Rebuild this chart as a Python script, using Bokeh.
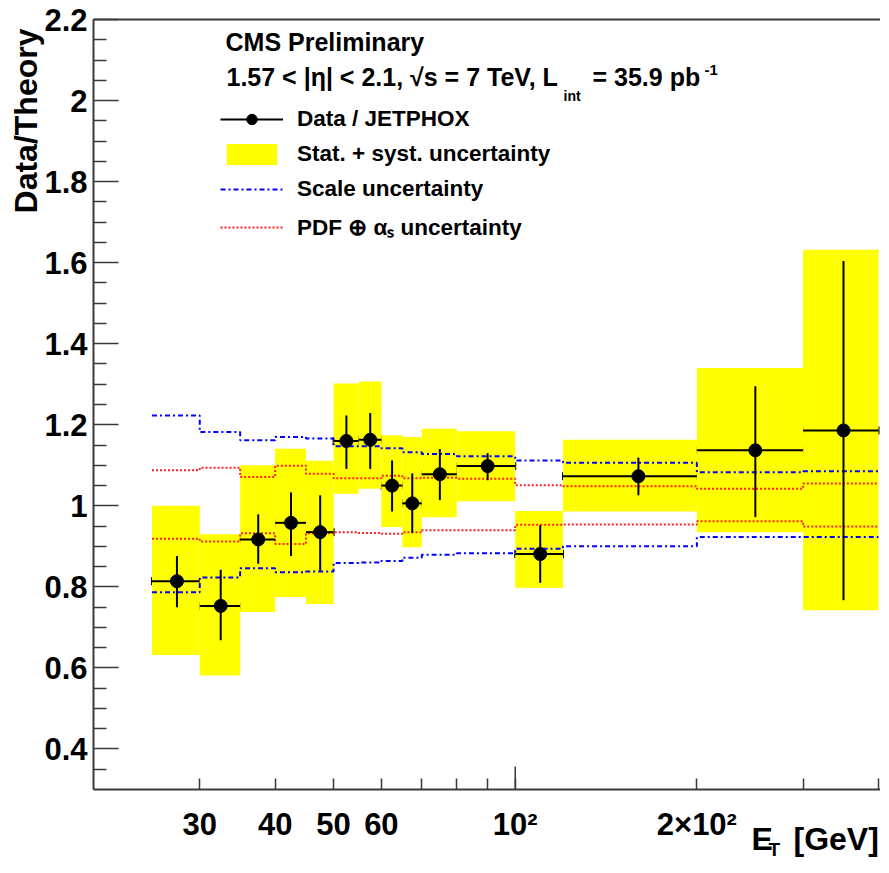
import math
from bokeh.plotting import figure
from bokeh.models import (Range1d, FixedTicker, LogAxis, Whisker, TeeHead, Label,
                          Legend, LegendItem, ColumnDataSource)
from bokeh.embed import file_html
from bokeh.resources import INLINE

# ---------------- data ----------------
BIN_LO = [25, 30, 35, 40, 45, 50, 55, 60, 65, 70, 80, 100, 120, 200, 300]
BIN_HI = [30, 35, 40, 45, 50, 55, 60, 65, 70, 80, 100, 120, 200, 300, 400]
ET = [27.5, 32.5, 37.5, 42.5, 47.5, 52.5, 57.5, 62.5, 67.5, 75, 90, 110, 160, 250, 350]

RATIO = [0.814, 0.753, 0.917, 0.958, 0.935, 1.160, 1.163, 1.050, 1.006, 1.078,
         1.098, 0.881, 1.073, 1.137, 1.186]
ERR_HI = [0.876, 0.842, 0.979, 1.033, 1.026, 1.223, 1.229, 1.112, 1.080, 1.140,
          1.130, 0.952, 1.119, 1.295, 1.604]
ERR_LO = [0.750, 0.668, 0.857, 0.876, 0.840, 1.091, 1.091, 0.986, 0.933, 1.014,
          1.063, 0.810, 1.026, 0.972, 0.767]

STAT_LO = [0.632, 0.581, 0.738, 0.775, 0.758, 1.030, 1.042, 0.948, 0.898, 0.972,
           1.011, 0.798, 0.986, 0.935, 0.742]
STAT_HI = [1.000, 0.930, 1.100, 1.141, 1.111, 1.302, 1.307, 1.174, 1.170, 1.190,
           1.184, 0.987, 1.163, 1.340, 1.632]

SCALE_UP = [1.223, 1.182, 1.162, 1.170, 1.166, 1.147, 1.147, 1.142, 1.132, 1.128,
            1.122, 1.112, 1.106, 1.083, 1.085]
SCALE_DN = [0.787, 0.823, 0.846, 0.836, 0.838, 0.859, 0.860, 0.864, 0.872, 0.879,
            0.883, 0.894, 0.900, 0.923, 0.923]

PDF_UP = [1.088, 1.094, 1.071, 1.099, 1.079, 1.068, 1.068, 1.074, 1.068, 1.069,
          1.067, 1.051, 1.048, 1.042, 1.055]
PDF_DN = [0.919, 0.912, 0.932, 0.906, 0.932, 0.935, 0.933, 0.931, 0.935, 0.940,
          0.940, 0.953, 0.954, 0.962, 0.949]

X_TICKS = [30, 40, 50, 60, 100, 200]
X_LABELS = ["30", "40", "50", "60", "10\u00b2", "2\u00d710\u00b2"]
X_MINOR = [70, 80, 90, 300, 400]
Y_TICKS = [0.4, 0.6, 0.8, 1.0, 1.2, 1.4, 1.6, 1.8, 2.0, 2.2]
Y_LABELS = ["0.4", "0.6", "0.8", "1", "1.2", "1.4", "1.6", "1.8", "2", "2.2"]
Y_MINOR = [0.35, 0.45, 0.5, 0.55, 0.65, 0.7, 0.75, 0.85, 0.9, 0.95, 1.05, 1.1, 1.15,
           1.25, 1.3, 1.35, 1.45, 1.5, 1.55, 1.65, 1.7, 1.75, 1.85, 1.9, 1.95,
           2.05, 2.1, 2.15]

AX_X0, AX_X1 = 20, 400      # axis values at the left edge / last bin edge
AX_Y0, AX_Y1 = 0.3, 2.2     # axis values at the bottom / top edge

# ---------------- layout geometry (pixels) ----------------
W, H = 880, 864
PX_L, PX_R, PX_T, PX_B = 93, 878, 19, 789   # where the axis values above sit

dec_per_px = (math.log10(AX_X1) - math.log10(AX_X0)) / (PX_R - PX_L)
X_LO = 10 ** (math.log10(AX_X0) - PX_L * dec_per_px)
X_HI = 10 ** (math.log10(AX_X0) + (W - PX_L) * dec_per_px)
y_per_px = (AX_Y1 - AX_Y0) / (PX_B - PX_T)
Y_LO = AX_Y0 - (H - PX_B) * y_per_px
Y_HI = AX_Y1 + PX_T * y_per_px

FONT = "Liberation Sans"
AXC = "#3a3a3a"

# ---------------- figure ----------------
p = figure(width=W, height=H, x_axis_type="log",
           x_range=Range1d(X_LO, X_HI), y_range=Range1d(Y_LO, Y_HI),
           output_backend="svg", toolbar_location=None, min_border=0)
p.title.visible = False
p.outline_line_color = None
p.grid.visible = False
p.background_fill_color = "white"
p.border_fill_color = "white"

xa = p.xaxis[0]
xa.fixed_location = AX_Y0
xa.bounds = (AX_X0, X_HI)
xa.ticker = FixedTicker(ticks=X_TICKS, minor_ticks=X_MINOR)
xa.major_label_overrides = {t: l for t, l in zip(X_TICKS, X_LABELS)}
xa.major_tick_in = 11
xa.major_tick_out = 0
xa.minor_tick_in = 11
xa.minor_tick_out = 0
xa.major_label_standoff = 17

ya = p.yaxis[0]
ya.fixed_location = AX_X0
ya.bounds = (AX_Y0, AX_Y1)
ya.ticker = FixedTicker(ticks=Y_TICKS, minor_ticks=Y_MINOR)
ya.major_label_overrides = {t: l for t, l in zip(Y_TICKS, Y_LABELS)}
ya.major_tick_in = 25
ya.major_tick_out = 0
ya.minor_tick_in = 13
ya.minor_tick_out = 0
ya.major_label_standoff = 6

for ax in (xa, ya):
    ax.axis_line_color = AXC
    ax.axis_line_width = 2
    ax.major_tick_line_color = AXC
    ax.minor_tick_line_color = AXC
    ax.major_tick_line_width = 1.5
    ax.minor_tick_line_width = 1.5
    ax.major_label_text_font = FONT
    ax.major_label_text_font_style = "bold"
    ax.major_label_text_font_size = "31px"
    ax.major_label_text_color = "black"

top_axis = LogAxis(fixed_location=AX_Y1, bounds=(AX_X0, X_HI),
                   ticker=FixedTicker(ticks=[]), axis_line_color=AXC, axis_line_width=2,
                   major_tick_in=0, major_tick_out=0, minor_tick_in=0, minor_tick_out=0,
                   major_label_standoff=0, major_label_text_font_size="0px")
p.add_layout(top_axis, "above")

# longer decade tick at 100
p.segment(x0=[100], x1=[100], y0=[AX_Y0], y1=[AX_Y0 + 23 * y_per_px],
          line_color=AXC, line_width=1.5)

# ---------------- uncertainty bands ----------------
r_stat = p.quad(left=BIN_LO, right=BIN_HI, bottom=STAT_LO, top=STAT_HI,
                fill_color="#ffff00", line_color=None)

step_x = BIN_LO + [BIN_HI[-1]]
r_scale = p.step(step_x, SCALE_UP + [SCALE_UP[-1]], mode="after",
                 line_color="#0000ff", line_width=2, line_dash="5 3 2 3")
p.step(step_x, SCALE_DN + [SCALE_DN[-1]], mode="after",
       line_color="#0000ff", line_width=2, line_dash="5 3 2 3")
r_pdf = p.step(step_x, PDF_UP + [PDF_UP[-1]], mode="after",
               line_color="#ff2020", line_width=2, line_dash="2 2")
p.step(step_x, PDF_DN + [PDF_DN[-1]], mode="after",
       line_color="#ff2020", line_width=2, line_dash="2 2")

# ---------------- data points ----------------
src = ColumnDataSource(dict(et=ET, r=RATIO, lo=ERR_LO, hi=ERR_HI, xlo=BIN_LO, xhi=BIN_HI))
r_hbar = p.segment(x0="xlo", x1="xhi", y0="r", y1="r", source=src,
                   line_color="black", line_width=2)
p.segment(x0="et", x1="et", y0="lo", y1="hi", source=src, line_color="black", line_width=2)
vcap = Whisker(source=src, base="et", upper="hi", lower="lo", dimension="height",
               line_alpha=0,
               upper_head=TeeHead(size=9, line_width=2, line_color="black"),
               lower_head=TeeHead(size=9, line_width=2, line_color="black"))
hcap = Whisker(source=src, base="r", upper="xhi", lower="xlo", dimension="width",
               line_alpha=0,
               upper_head=TeeHead(size=8, line_width=2, line_color="black"),
               lower_head=TeeHead(size=8, line_width=2, line_color="black"))
p.add_layout(vcap)
p.add_layout(hcap)
r_pts = p.scatter("et", "r", source=src, size=13, color="black", marker="circle")

# ---------------- legend ----------------
legend = Legend(items=[
    LegendItem(label="Data / JETPHOX", renderers=[r_hbar, r_pts]),
    LegendItem(label="Stat. + syst. uncertainty", renderers=[r_stat]),
    LegendItem(label="Scale uncertainty", renderers=[r_scale]),
    LegendItem(label="PDF \u2295 \u03b1\u209b uncertainty", renderers=[r_pdf]),
], location=(220, H - 242), glyph_width=63, glyph_height=26, label_height=26,
    label_standoff=14, spacing=9, padding=0, margin=0,
    border_line_color=None, background_fill_alpha=0,
    label_text_font=FONT, label_text_font_style="bold", label_text_font_size="22.5px",
    label_text_color="black")
p.add_layout(legend)

# ---------------- texts (x, baseline y in canvas pixels from top-left) ----------------
def lab(text, x, y, size, **kw):
    px = float(size.replace("px", ""))
    baseline = kw.pop("baseline", None)
    if baseline is None:
        # alphabetic anchor sits ~0.39 em above the drawn baseline; compensate
        y = y - 0.39 * px
        baseline = "alphabetic"
    p.add_layout(Label(text=text, x=x, y=H - y, x_units="screen", y_units="screen",
                       text_font=FONT, text_font_style="bold", text_font_size=size,
                       text_color="black", text_baseline=baseline, **kw))

lab("CMS Preliminary", 225, 51, "25px")
lab("1.57 < |\u03b7| < 2.1,  \u221as = 7 TeV, L", 226, 86, "25px")
lab("int", 563, 101, "14px")
lab("= 35.9 pb", 592, 86, "25px")
lab("-1", 704, 75, "15px")

lab("Data/Theory", 25, 28, "32px", angle=math.pi / 2, text_align="right",
    baseline="middle")
lab("E", 751, 851, "32px")
lab("T", 768, 856, "19px")
lab("[GeV]", 793, 851, "32px")

open("out.html", "w").write(file_html(p, INLINE))
